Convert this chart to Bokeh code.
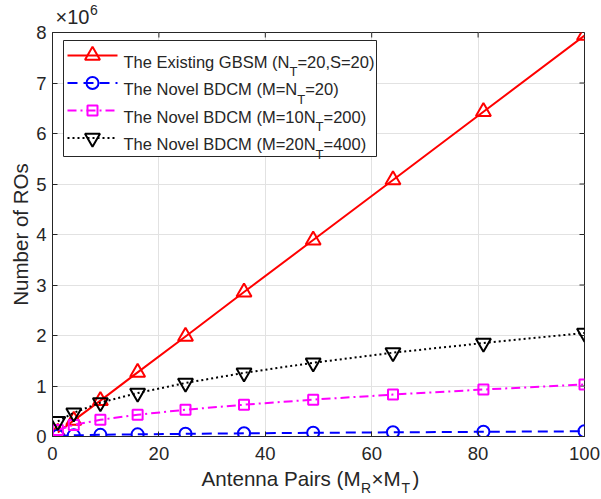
from bokeh.plotting import figure
from bokeh.models import Range1d, FixedTicker, LinearAxis
from bokeh.core.properties import value
from bokeh.embed import file_html
from bokeh.resources import INLINE

# ---------------- data ----------------
antenna_pairs = [1, 4, 9, 16, 25, 36, 49, 64, 81, 100]
ros_gbsm = [0.08e6, 0.32e6, 0.71e6, 1.27e6, 1.98e6, 2.86e6, 3.89e6, 5.08e6, 6.43e6, 7.94e6]
ros_bdcm_m20 = [0.013e6, 0.023e6, 0.033e6, 0.043e6, 0.053e6, 0.063e6, 0.073e6, 0.083e6, 0.093e6, 0.103e6]
ros_bdcm_m200 = [0.13e6, 0.23e6, 0.33e6, 0.43e6, 0.53e6, 0.63e6, 0.73e6, 0.83e6, 0.93e6, 1.03e6]
ros_bdcm_m400 = [0.30e6, 0.47e6, 0.67e6, 0.86e6, 1.06e6, 1.26e6, 1.46e6, 1.66e6, 1.85e6, 2.05e6]

x_ticks = [0, 20, 40, 60, 80, 100]
y_ticks = [0, 1e6, 2e6, 3e6, 4e6, 5e6, 6e6, 7e6, 8e6]
y_tick_labels = ["0", "1", "2", "3", "4", "5", "6", "7", "8"]

legend_rows = [
    ("The Existing GBSM (N", "T", "=20,S=20)"),
    ("The Novel BDCM (M=N", "T", "=20)"),
    ("The Novel BDCM (M=10N", "T", "=200)"),
    ("The Novel BDCM (M=20N", "T", "=400)"),
]

# x-axis title pieces: (text, start px, is_subscript)
x_title_pieces = [("Antenna Pairs (M", 201, False), ("R", 360.5, True),
                  ("×M", 371, False), ("T", 401, True), (")", 412, False)]
# exponent note pieces
exp_pieces = [("×10", 55, False), ("6", 89.5, True)]

# ---------------- style ----------------
FONT = "Liberation Sans"
INK = "#262626"
GRID = "#e2e2e2"
RED, BLUE, MAGENTA, BLACK = "#ff0000", "#0000ff", "#ff00ff", "#000000"

# Arial / Liberation Sans advance widths (per 1000 em)
W = {' ': 278, 'T': 611, 'h': 556, 'e': 556, 'E': 667, 'x': 500, 'i': 222, 's': 500,
     't': 278, 'n': 556, 'g': 556, 'G': 778, 'B': 667, 'S': 667, 'M': 833, '(': 333,
     ')': 333, 'N': 722, '=': 584, ',': 278, 'o': 556, 'v': 500, 'l': 222, 'D': 722,
     'C': 722, 'A': 667, 'a': 556, 'P': 667, 'r': 333, 'R': 722, '×': 584, 'u': 556,
     'm': 833, 'b': 556, 'f': 278, 'O': 778}
for d in "0123456789":
    W[d] = 556


def text_width(s, size):
    return sum(W.get(c, 556) for c in s) * size / 1000.0


# frame in page px: left=52, right=584, top=32, bottom=436
FL, FR, FT, FB = 52, 584, 32, 436
XMIN, XMAX, YMIN, YMAX = 0, 100, 0, 8e6
TICK = 5  # inward tick length, px

p = figure(width=600, height=498, output_backend="svg", toolbar_location=None,
           x_range=Range1d(XMIN, XMAX), y_range=Range1d(YMIN, YMAX),
           min_border_left=FL, min_border_right=600 - FR, min_border_top=FT,
           min_border_bottom=498 - FB,
           background_fill_color="white", border_fill_color="white")
p.outline_line_color = INK
p.outline_line_width = 1

xt = FixedTicker(ticks=x_ticks)
yt = FixedTicker(ticks=y_ticks)


def style_axis(ax):
    ax.axis_line_color = INK
    ax.axis_line_width = 1
    ax.major_tick_line_color = INK
    ax.major_tick_in = TICK
    ax.major_tick_out = 0
    ax.minor_tick_line_color = None
    ax.major_label_text_font = FONT
    ax.major_label_text_color = INK
    ax.major_label_text_font_size = "18.5px"


p.xaxis.ticker = xt
p.yaxis.ticker = yt
p.yaxis.major_label_overrides = {int(v): s for v, s in zip(y_ticks, y_tick_labels)}
style_axis(p.xaxis[0])
style_axis(p.yaxis[0])
p.xaxis.major_label_standoff = 10
p.yaxis.major_label_standoff = 6
p.yaxis.axis_label = "Number of ROs"
p.yaxis.axis_label_text_font = FONT
p.yaxis.axis_label_text_font_size = "20.5px"
p.yaxis.axis_label_text_font_style = "normal"
p.yaxis.axis_label_text_color = INK
p.yaxis.axis_label_standoff = 1

p.xgrid.ticker = xt
p.ygrid.ticker = yt
p.xgrid.grid_line_color = GRID
p.ygrid.grid_line_color = GRID


def px_to_data(px, py):
    return (XMIN + (px - FL) / (FR - FL) * (XMAX - XMIN),
            YMAX - (py - FT) / (FB - FT) * (YMAX - YMIN))


# ---------- text rows outside the frame, carried by label-only axes ----------
def text_axis(pieces, want_sub, size, standoff, side):
    sel = [(t, x0) for t, x0, sub in pieces if sub == want_sub]
    centers = [round(px_to_data(x0 + text_width(t, size) / 2, FT)[0], 4) for t, x0 in sel]
    ax = LinearAxis(ticker=FixedTicker(ticks=centers))
    ax.major_label_overrides = {c: t for c, (t, _) in zip(centers, sel)}
    ax.axis_line_color = None
    ax.major_tick_line_color = None
    ax.minor_tick_line_color = None
    ax.major_tick_in = 0
    ax.major_tick_out = 0
    ax.major_label_text_font = FONT
    ax.major_label_text_color = INK
    ax.major_label_text_font_size = f"{size}px"
    ax.major_label_standoff = standoff
    p.add_layout(ax, side)


XL, XS = 20.6, 14
text_axis(x_title_pieces, False, XL, 4, "below")
text_axis(x_title_pieces, True, XS, -13, "below")
EL, ES = 20, 14
text_axis(exp_pieces, False, EL, 5, "above")
text_axis(exp_pieces, True, ES, -12, "above")

# box-style inward ticks on the top and right edges
dx_tick = TICK / (FR - FL) * (XMAX - XMIN)
dy_tick = TICK / (FB - FT) * (YMAX - YMIN)
p.segment(x0=x_ticks, y0=[YMAX] * len(x_ticks), x1=x_ticks,
          y1=[YMAX - dy_tick] * len(x_ticks), line_color=INK, line_width=1)
p.segment(x0=[XMAX] * len(y_ticks), y0=y_ticks, x1=[XMAX - dx_tick] * len(y_ticks),
          y1=y_ticks, line_color=INK, line_width=1)

# ---------------- series ----------------
series = [
    (ros_gbsm, RED, "solid", "triangle", 15),
    (ros_bdcm_m20, BLUE, "10 6", "circle", 12),
    (ros_bdcm_m200, MAGENTA, "9 4 2 4", "square", 10),
    (ros_bdcm_m400, BLACK, "2 3", "inverted_triangle", 15),
]
for ys, col, dash, mk, sz in series:
    p.line(antenna_pairs, ys, line_color=col, line_width=2, line_dash=dash)
    p.scatter(antenna_pairs, ys, marker=mk, size=sz, line_color=col,
              fill_color=None, line_width=2)

# ---------------- hand-built legend (layout given in pixels) ----------------
BOX_L, BOX_R, BOX_T, BOX_B = 63, 376, 40, 156
ROW_Y = [55, 82.5, 110, 137.5]
SAMPLE_X0, SAMPLE_X1, MARK_X, TEXT_X = 67, 117, 92, 123

bl, bt = px_to_data(BOX_L, BOX_T)
br, bb = px_to_data(BOX_R, BOX_B)
p.quad(left=[bl], right=[br], top=[bt], bottom=[bb], fill_color="white",
       line_color=INK, line_width=1)

for (ys, col, dash, mk, sz), ry in zip(series, ROW_Y):
    sx0, sy = px_to_data(SAMPLE_X0, ry)
    sx1, _ = px_to_data(SAMPLE_X1, ry)
    mx, _ = px_to_data(MARK_X, ry)
    p.line([sx0, sx1], [sy, sy], line_color=col, line_width=2, line_dash=dash)
    p.scatter([mx], [sy], marker=mk, size=sz, line_color=col, fill_color=None, line_width=2)


def glyph_text(txt, px, py_base, size):
    gx, gy = px_to_data(px, py_base)
    p.text(x=[gx], y=[gy], text=[txt], text_font=value(FONT),
           text_font_size=value(f"{size}px"), text_color=INK,
           text_baseline="alphabetic", text_align="left")


MAIN, SUB = 16.5, 13
for (a, s, b), ry in zip(legend_rows, ROW_Y):
    base = ry + 6
    glyph_text(a, TEXT_X, base, MAIN)
    x1 = TEXT_X + text_width(a, MAIN)
    glyph_text(s, x1, base + 10, SUB)
    x2 = x1 + text_width(s, SUB)
    glyph_text(b, x2, base, MAIN)

open("out.html", "w").write(file_html(p, INLINE))
